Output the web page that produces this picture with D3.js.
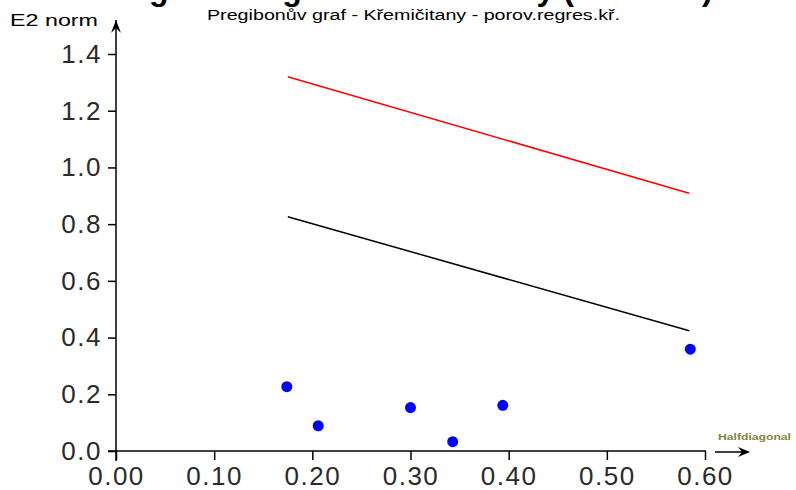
<!DOCTYPE html>
<html>
<head>
<meta charset="utf-8">
<script src="https://cdn.jsdelivr.net/npm/d3@7"></script>
<style>
  body { margin: 0; background: #fff; }
  svg { display: block; font-family: Arial, "Liberation Sans", sans-serif; }
</style>
</head>
<body>
<script>
// data
const halfDiagonal = [0.174, 0.206, 0.300, 0.343, 0.394, 0.585];
const e2Norm = [0.227, 0.089, 0.153, 0.033, 0.161, 0.359];

// the two boundary lines (start, end)
const lineX = [0.175, 0.584];
const redLine = [1.32, 0.909];
const blackLine = [0.826, 0.424];

const xTicks = [0, 0.1, 0.2, 0.3, 0.4, 0.5, 0.6];
const yTicks = [0, 0.2, 0.4, 0.6, 0.8, 1.0, 1.2, 1.4];

const w = 796, h = 490;

const svg = d3.select("body").append("svg")
  .attr("width", w)
  .attr("height", h);

const x = d3.scaleLinear().domain([0, 0.6]).range([116, 705]);
const y = d3.scaleLinear().domain([0, 1.4]).range([451, 54]);

// big title, mostly cut off at the top
svg.append("text")
  .attr("x", 405)
  .attr("y", 0)
  .attr("text-anchor", "middle")
  .attr("font-weight", "bold")
  .attr("font-size", 32)
  .text("Pregibonův graf - Křemičitany (E2 norm)");

// subtitle
svg.append("text")
  .attr("x", 207)
  .attr("y", 20)
  .attr("font-size", 14)
  .attr("textLength", 413)
  .attr("lengthAdjust", "spacingAndGlyphs")
  .text("Pregibonův graf - Křemičitany - porov.regres.kř.");

// y axis label
svg.append("text")
  .attr("x", 10)
  .attr("y", 26)
  .attr("font-size", 17)
  .attr("textLength", 88)
  .attr("lengthAdjust", "spacingAndGlyphs")
  .text("E2 norm");

// axes
const yAxis = svg.append("g")
  .attr("transform", "translate(116,0)")
  .call(d3.axisLeft(y).tickValues(yTicks).tickSize(8).tickPadding(6)
    .tickFormat(d3.format(".1f")));

const xAxis = svg.append("g")
  .attr("transform", "translate(0,451)")
  .call(d3.axisBottom(x).tickValues(xTicks).tickSize(9).tickPadding(7)
    .tickFormat(d3.format(".2f")));

[yAxis, xAxis].forEach(g => {
  g.select(".domain").remove();
  g.selectAll("line").attr("stroke", "#000").attr("stroke-width", 1.5);
  g.selectAll("text")
    .attr("fill", "#2a2a2a")
    .attr("font-size", 26)
    .attr("font-family", "Arial, 'Liberation Sans', sans-serif")
    .attr("letter-spacing", 1.5);
});
xAxis.selectAll("text").attr("dy", "0.7em");

// axis lines
svg.append("line")
  .attr("x1", x(0)).attr("x2", x(0))
  .attr("y1", y(0) + 10).attr("y2", 20)
  .attr("stroke", "#000").attr("stroke-width", 1.5);
svg.append("line")
  .attr("x1", x(0) - 8).attr("x2", x(0.6) + 1)
  .attr("y1", y(0)).attr("y2", y(0))
  .attr("stroke", "#000").attr("stroke-width", 1.5);

// y arrow head
svg.append("path")
  .attr("d", `M${x(0) - 5},33 L${x(0)},20 L${x(0) + 5},33 L${x(0)},28 Z`)
  .attr("fill", "#000");

// x arrow
svg.append("line")
  .attr("x1", 715).attr("x2", 748)
  .attr("y1", 452).attr("y2", 452)
  .attr("stroke", "#000").attr("stroke-width", 1.5);
svg.append("path")
  .attr("d", "M738,447 L750,452 L738,457 L742,452 Z")
  .attr("fill", "#000");

svg.append("text")
  .attr("x", 718)
  .attr("y", 440)
  .attr("font-size", 9)
  .attr("font-weight", "bold")
  .attr("fill", "#86863a")
  .attr("textLength", 73)
  .attr("lengthAdjust", "spacingAndGlyphs")
  .text("Halfdiagonal");

// boundary lines
const line = d3.line().x(d => x(d[0])).y(d => y(d[1]));
svg.append("path")
  .datum(lineX.map((v, i) => [v, redLine[i]]))
  .attr("d", line)
  .attr("fill", "none")
  .attr("stroke", "#ff0000")
  .attr("stroke-width", 1.5);
svg.append("path")
  .datum(lineX.map((v, i) => [v, blackLine[i]]))
  .attr("d", line)
  .attr("fill", "none")
  .attr("stroke", "#000")
  .attr("stroke-width", 1.5);

// points
svg.append("g")
  .selectAll("circle")
  .data(halfDiagonal.map((v, i) => [v, e2Norm[i]]))
  .enter()
  .append("circle")
  .attr("cx", d => x(d[0]))
  .attr("cy", d => y(d[1]))
  .attr("r", 5.5)
  .attr("fill", "#0000ff");
</script>
</body>
</html>
